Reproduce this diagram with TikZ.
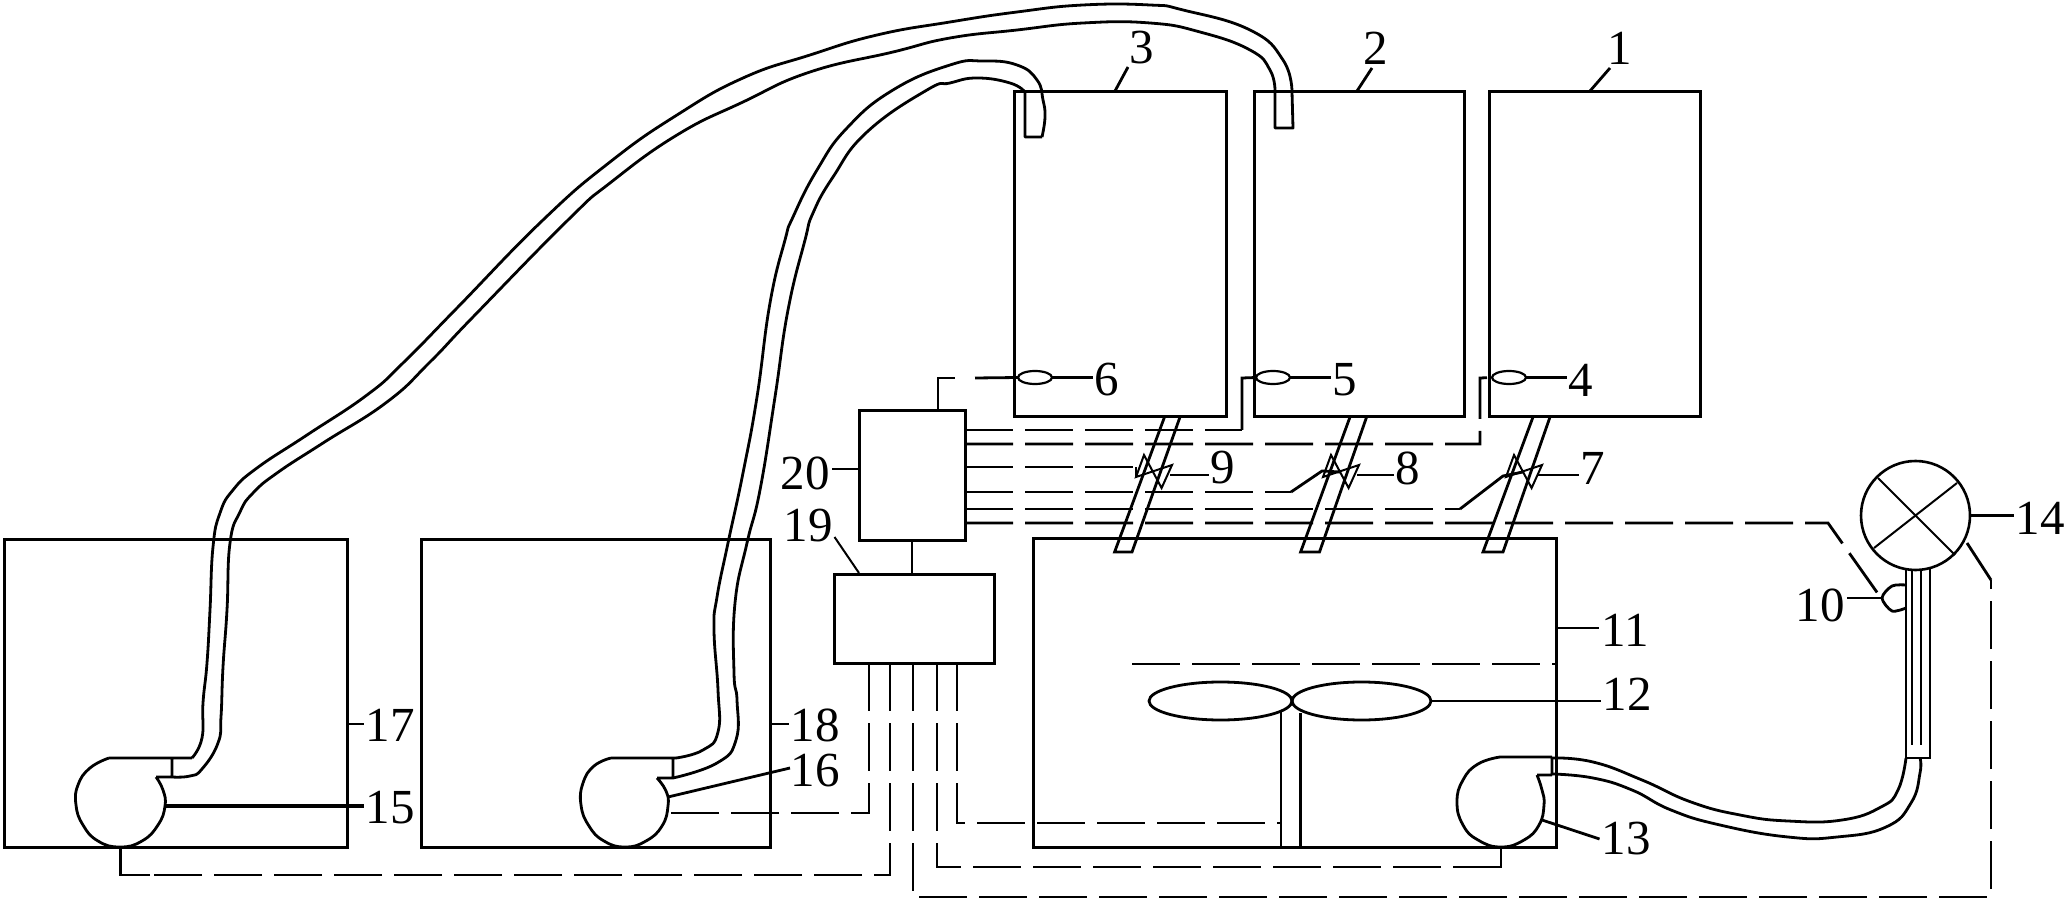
\documentclass[tikz,border=0pt]{standalone}
\usepackage{fontspec}
\setmainfont{Liberation Serif}
\usetikzlibrary{shapes.geometric}
\tikzset{
  box/.style={draw,line width=1.5pt,rectangle,inner sep=0pt,outer sep=0pt},
  line/.style={line width=1.4pt,line join=miter},
  thinl/.style={line width=1pt},
  wire/.style={line width=1.4pt,dash pattern=on 24pt off 6pt},
  tube/.style={line width=1.4pt,line join=round},
  lab/.style={inner sep=1pt,outer sep=0pt,font=\fontsize{24.5pt}{26pt}\selectfont},
  sens/.style={draw,line width=1.1pt,ellipse,inner sep=0pt,outer sep=0pt,minimum width=17pt,minimum height=6.5pt},
  blade/.style={draw,line width=1.4pt,ellipse,inner sep=0pt,outer sep=0pt,minimum height=19pt},
  sm/.style={smooth,tension=0.8},
}
\newcommand\valvesym[1]{\draw[thinl] (#1) ++(-9,-17) -- ++(17.6,33) -- ++(10.4,-23) -- ++(-36,12) -- cycle;}
\begin{document}
\begin{tikzpicture}[x=0.5pt,y=-0.5pt]
\useasboundingbox (0,0) rectangle (2066,903);
\fill[white] (0,0) rectangle (2066,903);
% tanks
\node[box,minimum width=106.25pt,minimum height=162.5pt] (t3) at (1120.25,254.5) {};
\node[box,minimum width=105pt,minimum height=162.5pt] (t2) at (1359,254.5) {};
\node[box,minimum width=105.25pt,minimum height=162.5pt] (t1) at (1595,254.5) {};
\node[box,minimum width=261.8pt,minimum height=154.5pt] (t11) at (1294.8,692.5) {};
\node[box,minimum width=171.2pt,minimum height=154pt] (t17) at (175.8,693) {};
\node[box,minimum width=174.5pt,minimum height=154pt] (t18) at (595.5,693) {};
\node[box,minimum width=53pt,minimum height=64.5pt] (c20) at (912,475.5) {};
\node[box,minimum width=79.75pt,minimum height=44.5pt] (c19) at (914.25,618.5) {};
% sensors
\node[sens] (s6) at (1035,377.5) {};
\node[sens] (s5) at (1273,377.5) {};
\node[sens] (s4) at (1509,377.5) {};
% labels
\node[lab] (l1) at (1620,48) {1};
\node[lab] (l2) at (1376,48) {2};
\node[lab] (l3) at (1142,48) {3};
\node[lab] (l4) at (1581,380) {4};
\node[lab] (l5) at (1345,380) {5};
\node[lab] (l6) at (1107,380) {6};
\node[lab] (l7) at (1593,468) {7};
\node[lab] (l8) at (1408,468) {8};
\node[lab] (l9) at (1223,468) {9};
\node[lab] (l10) at (1820,605) {10};
\node[lab] (l11) at (1625,630) {11};
\node[lab] (l12) at (1627,694) {12};
\node[lab] (l13) at (1626,839) {13};
\node[lab] (l14) at (2040,518) {14};
\node[lab] (l15) at (390,808) {15};
\node[lab] (l16) at (815,771) {16};
\node[lab] (l17) at (390,725) {17};
\node[lab] (l18) at (815,725) {18};
\node[lab] (l19) at (808,526) {19};
\node[lab] (l20) at (805,473) {20};
% feed pipes
\draw[line] (1164.5,417) -- (1114.6,552) -- (1132,552) -- (1180,417);
\draw[line] (1350,417) -- (1300.6,552) -- (1319.5,552) -- (1366.6,417);
\draw[line] (1533,417) -- (1483,552) -- (1503,552) -- (1550,417);
% valves
\coordinate (v9) at (1153,472);
\coordinate (v8) at (1340,472);
\coordinate (v7) at (1523,472);
\valvesym{v9}\valvesym{v8}\valvesym{v7}
% impeller
\node[blade,minimum width=71.5pt] (b1) at (1220.5,701) {};
\node[blade,minimum width=69.5pt] (b2) at (1361.5,701) {};
\draw[line] (1281,712) -- (1281,847);
\draw[line] (1300.6,713) -- (1300.6,847);
\coordinate (shaft) at (1282,823);
% level line in reactor
\coordinate (lv) at (1132,664);
\draw[wire] (lv) -- (lv -| t11.east);
% pump 15
\coordinate (p15w) at (165,806);
\coordinate (p15b) at (120.5,847);
\draw[tube] (192,758) -- (109,758) plot[sm] coordinates {(109,758) (90,768) (78,785) (76,805) (83,825) (98,841) (120,847) (142,841) (158,825) (165,806) (163,790) (156,777)} (156,777) -- (172,777) (172,758) -- (172,777);
% pump 16
\coordinate (p16w) at (668,813);
\draw[tube] (676,758) -- (611,758) plot[sm] coordinates {(611,758) (594,766) (583,783) (581,805) (589,826) (604,841) (625,847) (646,841) (662,826) (668,806) (666,791) (657,778)} (657,778) -- (673,778) (673,758) -- (673,778);
% pump 13
\coordinate (p13b) at (1501,847);
\draw[tube] (1552,757) -- (1500,757) plot[sm] coordinates {(1500,757) (1478,764) (1463,780) (1457,802) (1463,825) (1478,840) (1501,847) (1524,840) (1539,825) (1544,805) (1542,790) (1537,775)} (1537,775) -- (1552,775) (1552,757) -- (1552,775);
% long pipe from 15 to tank 2
\draw[tube] plot[sm] coordinates {(192,758) (202,738) (203,703) (207,663) (210,610) (213,547) (220,513) (233,490) (257,468) (307,435) (367,395) (403,363) (457,308) (543,220) (610,162) (677,115) (743,78) (810,55) (877,35) (950,22) (1017,12) (1083,5) (1150,5) (1183,10) (1250,30) (1283,60) (1292,92)} (1292,92) -- (1293,128) -- (1275,128) -- (1275,92) plot[sm] coordinates {(1275,92) (1270,70) (1250,50) (1200,32) (1150,23) (1083,23) (1017,30) (950,38) (893,52) (810,72) (743,102) (677,135) (610,183) (568,220) (473,317) (430,362) (387,402) (323,443) (277,473) (253,493) (240,512) (230,543) (227,610) (223,667) (221,717) (218,743) (202,769) (190,776) (172,777)};
% long pipe from 16 to tank 3
\draw[tube] plot[sm] coordinates {(676,758) (703,750) (718,732) (718,690) (714,630) (717,597) (728,543) (743,473) (757,397) (770,303) (785,240) (793,217) (817,170) (847,128) (893,90) (950,65) (983,61) (1017,65) (1037,80) (1043,100) (1045,117) (1042,137)} (1042,137) -- (1025,137) -- (1025,92) plot[sm] coordinates {(1025,92) (1010,83) (977,78) (950,83) (927,90) (867,132) (833,177) (813,213) (805,240) (788,310) (775,397) (760,490) (747,543) (735,603) (734,673) (737,700) (736,740) (717,763) (673,778)};
% pipe from 13 to 14
\draw[tube] plot[sm] coordinates {(1552,758) (1593,762) (1642,780) (1691,802) (1740,815) (1788,821) (1842,820) (1881,807) (1898,790) (1906,758)};
\draw[tube] plot[sm] coordinates {(1552,774) (1593,778) (1632,790) (1671,810) (1720,825) (1788,837) (1837,837) (1886,827) (1911,803) (1920,773) (1920,758)};
% meter 14 with its stem
\node[draw,line width=1.3pt,circle,inner sep=0pt,outer sep=0pt,minimum size=54.5pt] (m14) at (1915.5,515.5) {};
\draw[thinl] (1878,478) -- (1955,555) (1957,483) -- (1874,548);
\draw[line] (1906,568) -- (1906,758) -- (1930,758) -- (1930,568);
\draw[thinl] (1912,570) -- (1912,745) (1921,570) -- (1921,745);
% sensor 10
\draw[line] plot[smooth] coordinates {(1906,585) (1892,586) (1882,598) (1892,611) (1906,608)};
\coordinate (s10) at (1881,598);
% leaders
\draw[line] (s6.east) -- (s6.east -| l6.west);
\draw[line] (s5.east) -- (s5.east -| l5.west);
\draw[line] (s4.east) -- (s4.east -| l4.west);
\draw[line] (1170,475) -- (1170,475 -| l9.west);
\draw[line] (1357,475) -- (1357,475 -| l8.west);
\draw[line] (1538,475) -- (1538,475 -| l7.west);
\draw[line] (1115,91) -- (1128,67);
\draw[line] (1357,91) -- (1372,68);
\draw[line] (1590,91) -- (1610,68);
\draw[line] (s10) -- (s10 -| l10.east);
\draw[line] (t11.east |- 0,628) -- (l11.west |- 0,628);
\draw[line] (b2.east) -- (b2.east -| l12.west);
\draw[line] (1542,820) -- (l13.west);
\draw[line] (m14.east) -- (m14.east -| l14.west);
\draw[line width=1.8pt] (p15w) -- (p15w -| l15.west);
\draw[line] (668,797) -- (790,768);
\draw[line] (t17.east |- 0,724) -- (l17.west |- 0,724);
\draw[line] (t18.east |- 0,724) -- (l18.west |- 0,724);
\draw[thinl] (834.5,537) -- (859,573);
\draw[line] (c20.west |- 0,469) -- (l20.east |- 0,469);
% control wires
\draw[line] (c20.south) -- (c20.south |- c19.north);
\draw[line] (938,411) -- (938,378) -- (955,378);
\draw[wire] (975,378) -- (s6.west);
\draw[wire] (c20.east |- 0,430) -- (1242,430);
\draw[line] (1242,430) -- (1242,378) -- (s5.west);
\draw[wire] (c20.east |- 0,444) -- (1480,444) -- (1480,378) -- (s4.west);
\draw[wire] (c20.east |- 0,467) -- (1136,467);
\draw[thinl] (1136,467) -- (1136,476);
\draw[wire] (c20.east |- 0,492) -- (1291,492);
\draw[line] (1291,492) -- (1322,471) -- (v8);
\draw[wire] (c20.east |- 0,509) -- (1460,509);
\draw[line] (1460,509) -- (1503,476) -- (v7);
\draw[wire] (c20.east |- 0,523) -- (1828,523) -- (s10);
\draw[wire] (869,663) -- (869,813) -- (p16w);
\draw[wire] (890,663) -- (890,875) -- (150,875);
\draw[line] (150,875) -- (120.5,875) -- (p15b);
\draw[wire] (913,663) -- (913,897) -- (1991,897) -- (1991,580);
\draw[line] (1991,580) -- (1967,543);
\draw[wire] (937,663) -- (937,867) -- (1480,867);
\draw[line] (1480,867) -- (1501,867) -- (p13b);
\draw[wire] (957,663) -- (957,823) -- (shaft);
\end{tikzpicture}
\end{document}
